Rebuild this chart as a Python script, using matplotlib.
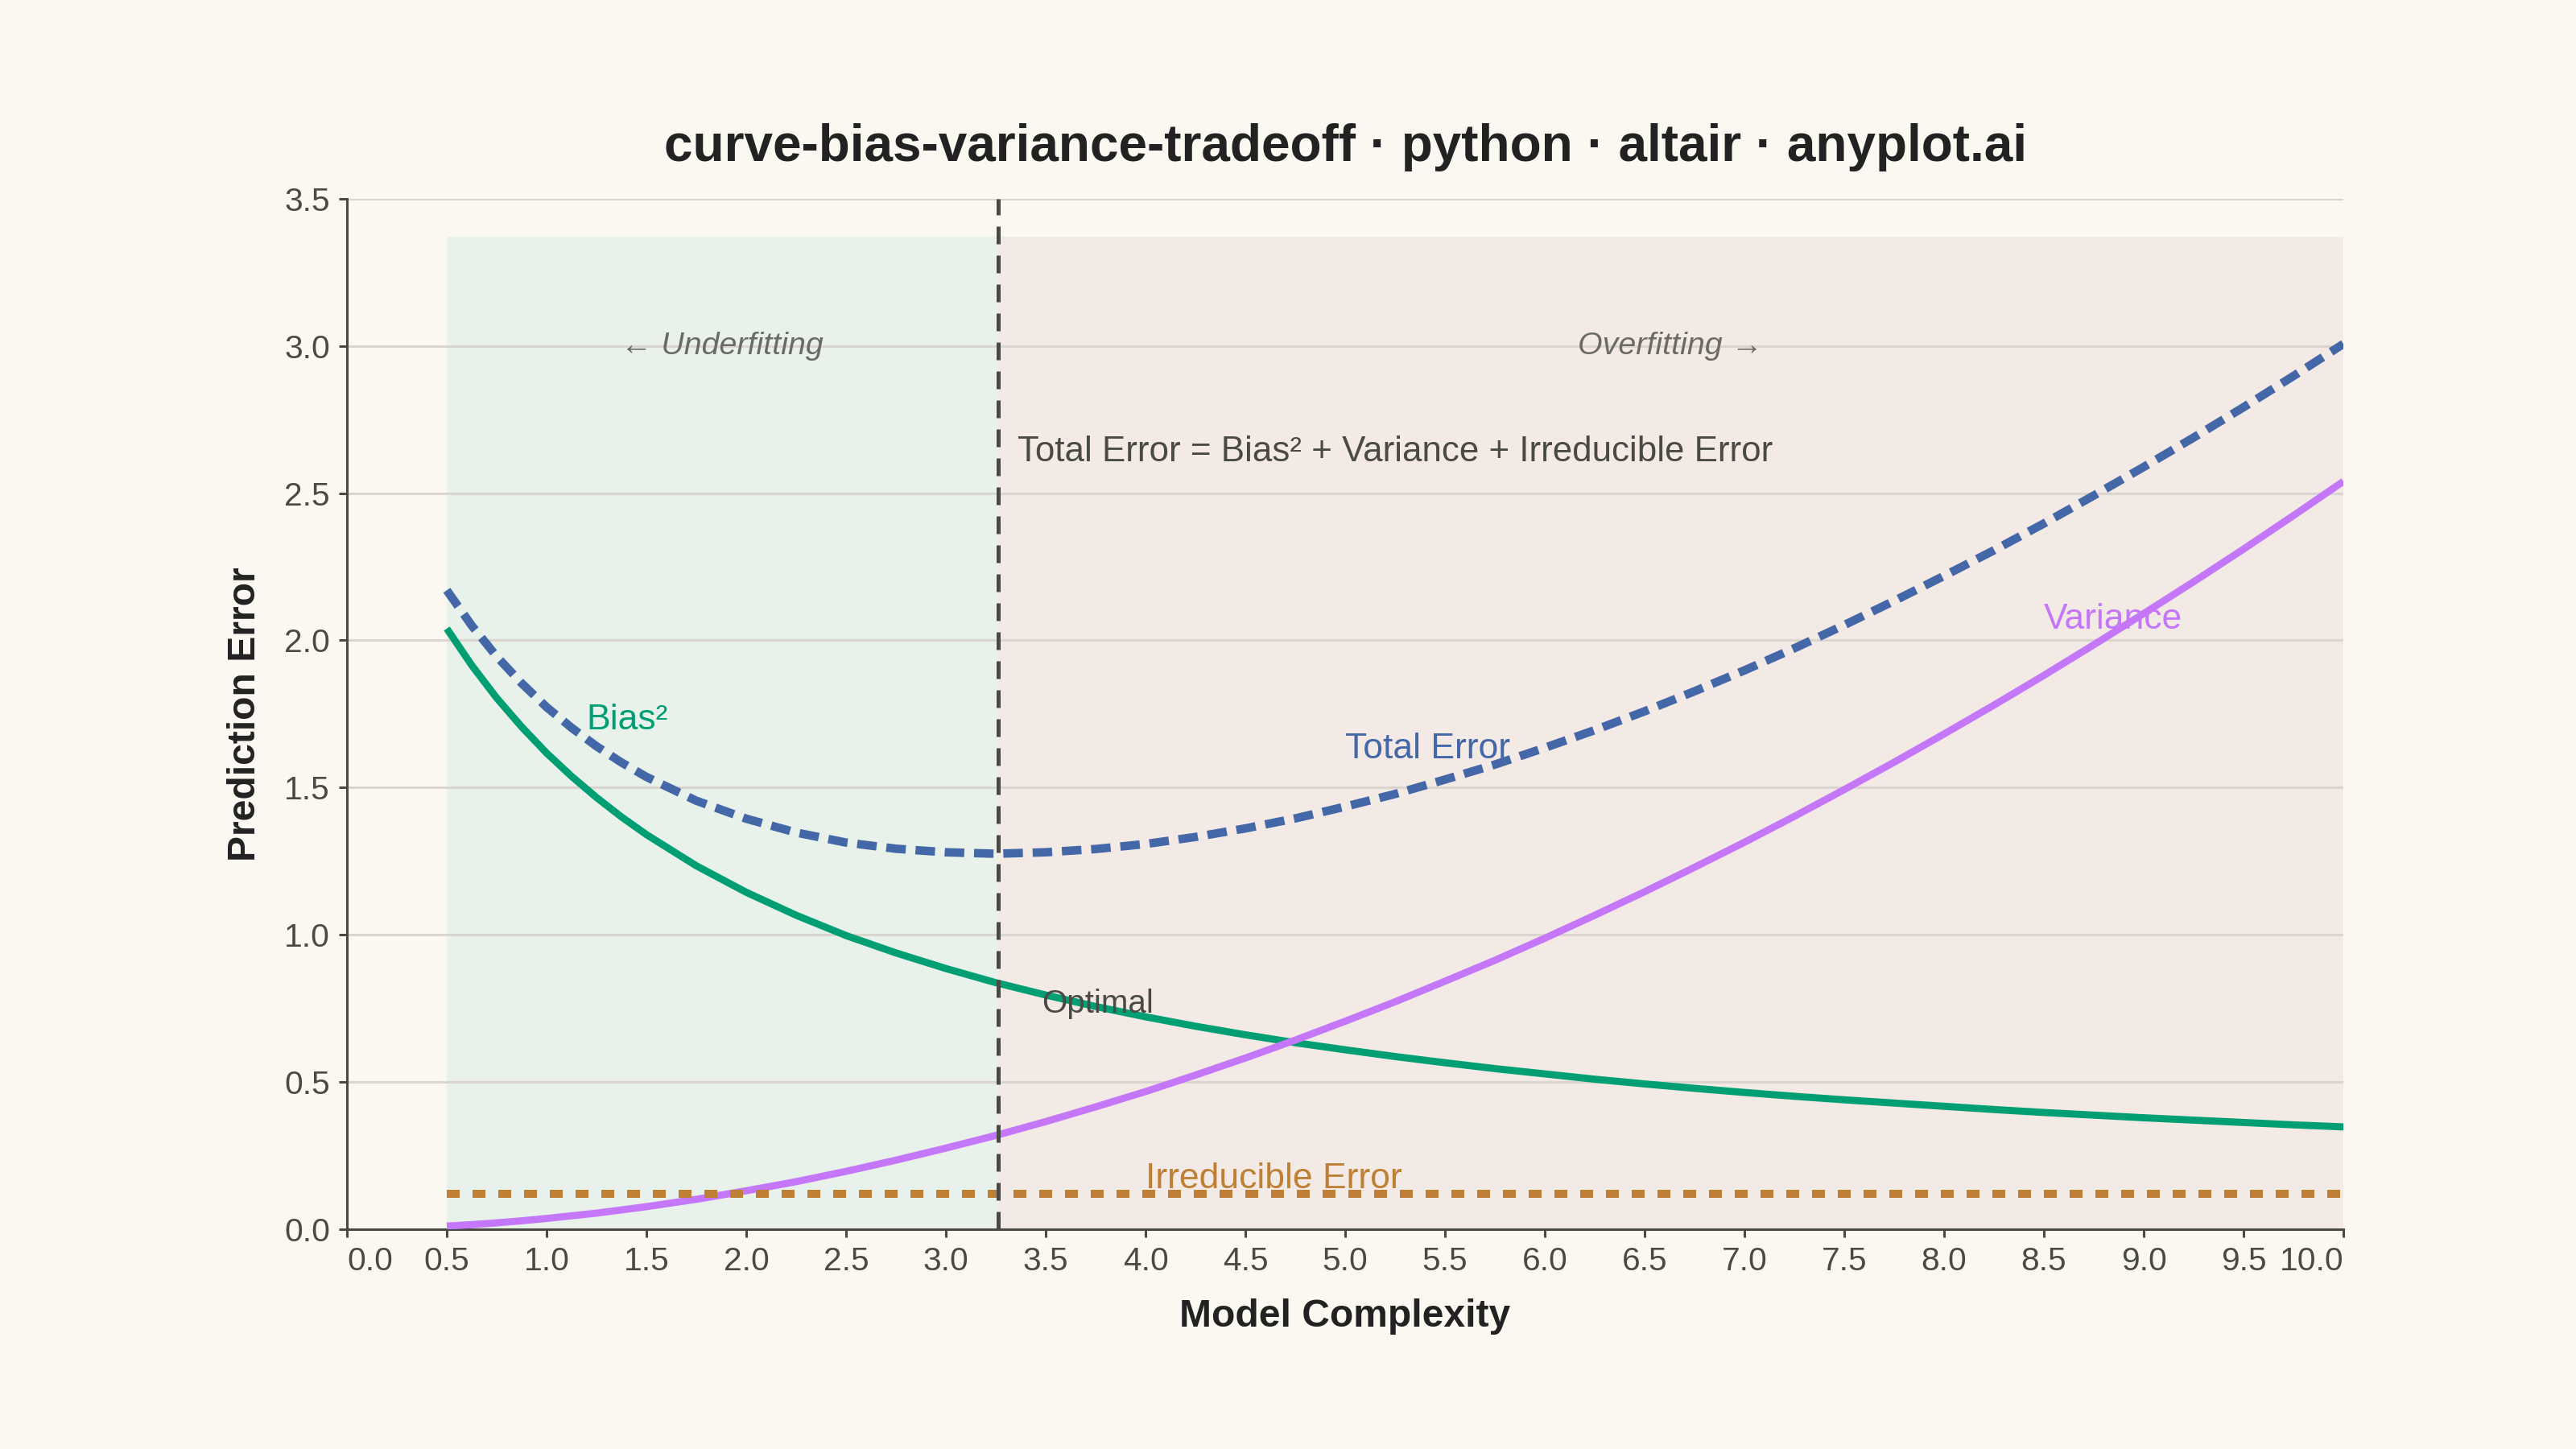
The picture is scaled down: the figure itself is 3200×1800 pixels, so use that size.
import matplotlib
matplotlib.use("Agg")
import matplotlib.pyplot as plt
import numpy as np

# model complexity sample points (finer where the curves bend most)
complexity = [0.5, 0.625, 0.75, 0.875, 1.0, 1.125, 1.25, 1.375, 1.5, 1.75, 2.0, 2.25,
              2.5, 2.75, 3.0, 3.25, 3.5, 3.75, 4.0, 4.25, 4.5, 4.75, 5.0, 5.25, 5.5,
              5.75, 6.0, 6.25, 6.5, 6.75, 7.0, 7.25, 7.5, 7.75, 8.0, 8.25, 8.5, 8.75,
              9.0, 9.25, 9.5, 9.75, 10.0]
bias_sq = [2.040, 1.915, 1.804, 1.706, 1.617, 1.538, 1.466, 1.400, 1.340, 1.234, 1.144, 1.066,
           0.997, 0.938, 0.885, 0.837, 0.795, 0.756, 0.721, 0.689, 0.660, 0.633, 0.609, 0.586,
           0.565, 0.545, 0.527, 0.509, 0.493, 0.478, 0.464, 0.451, 0.439, 0.428, 0.417, 0.406,
           0.396, 0.387, 0.378, 0.370, 0.362, 0.354, 0.347]
variance = [0.010, 0.015, 0.021, 0.028, 0.036, 0.045, 0.054, 0.065, 0.076, 0.101, 0.130, 0.161,
            0.196, 0.234, 0.275, 0.318, 0.365, 0.415, 0.467, 0.523, 0.581, 0.642, 0.706, 0.772,
            0.842, 0.913, 0.988, 1.066, 1.146, 1.229, 1.314, 1.402, 1.493, 1.586, 1.682, 1.780,
            1.881, 1.985, 2.091, 2.199, 2.310, 2.424, 2.540]
irreducible = 0.12
optimal_x = 3.26
region_top = 3.37

x_ticks = [0.0, 0.5, 1.0, 1.5, 2.0, 2.5, 3.0, 3.5, 4.0, 4.5, 5.0,
           5.5, 6.0, 6.5, 7.0, 7.5, 8.0, 8.5, 9.0, 9.5, 10.0]
y_ticks = [0.0, 0.5, 1.0, 1.5, 2.0, 2.5, 3.0, 3.5]

total_error = np.array(bias_sq) + np.array(variance) + irreducible

BG = "#FAF8F1"
INK = "#4A4A44"
GREEN = "#009E73"
BLUE = "#4467A8"
PURPLE = "#C477F9"
ORANGE = "#BD8035"

plt.rcParams['font.family'] = ['Liberation Sans', 'DejaVu Sans']

fig = plt.figure(figsize=(16, 9), dpi=200, facecolor=BG)
ax = fig.add_axes([0.1347, 0.1518, 0.775, 0.711])
ax.set_facecolor(BG)

# under/over fitting regions
ax.fill_between([complexity[0], optimal_x], 0, region_top, color="#E8F2EA", lw=0, zorder=0.1)
ax.fill_between([optimal_x, complexity[-1]], 0, region_top, color="#F4EAE5", lw=0, zorder=0.1)

ax.plot(complexity, bias_sq, color=GREEN, lw=3.2, solid_capstyle='butt', solid_joinstyle='round', zorder=3)
ax.plot(complexity, variance, color=PURPLE, lw=3.2, solid_capstyle='butt', solid_joinstyle='round', zorder=3)
ax.plot([complexity[0], complexity[-1]], [irreducible, irreducible], color=ORANGE, lw=3.6,
        dashes=(1.6, 1.6), dash_capstyle='butt', zorder=3)
ax.plot(complexity, total_error, color=BLUE, lw=3.8, dashes=(2.3, 1.15),
        dash_capstyle='butt', zorder=4)

ax.axvline(optimal_x, color=INK, lw=1.8, dashes=(4.4, 2.8), zorder=5)

# annotations
ax.text(1.88, 3.0, "← Underfitting", ha='center', va='center', fontsize=14.2,
        style='italic', color="#6B6B66", zorder=6)
ax.text(6.63, 3.0, "Overfitting →", ha='center', va='center', fontsize=14.2,
        style='italic', color="#6B6B66", zorder=6)
ax.text(optimal_x + 0.1, 2.64, "Total Error = Bias² + Variance + Irreducible Error",
        ha='left', va='center', fontsize=15.8, color=INK, zorder=6)
ax.text(optimal_x + 0.22, 0.765, "Optimal", ha='left', va='center', fontsize=14.5, color=INK, zorder=6)
ax.text(1.2, 1.73, "Bias²", ha='left', va='center', fontsize=16, color=GREEN, zorder=6)
ax.text(5.0, 1.63, "Total Error", ha='left', va='center', fontsize=16, color=BLUE, zorder=6)
ax.text(8.5, 2.07, "Variance", ha='left', va='center', fontsize=16, color=PURPLE, zorder=6)
ax.text(4.0, 0.17, "Irreducible Error", ha='left', va='center', fontsize=16, color=ORANGE, zorder=6)

ax.set_xlim(0, 10)
ax.set_ylim(0, 3.5)
ax.set_xticks(x_ticks)
ax.set_xticklabels([f"{t:.1f}" for t in x_ticks])
ax.set_yticks(y_ticks)
ax.set_yticklabels([f"{t:.1f}" for t in y_ticks])
ticklabels = ax.get_xticklabels()
ticklabels[0].set_ha('left')
ticklabels[-1].set_ha('right')

ax.tick_params(axis='both', colors=INK, labelcolor=INK, labelsize=14.7, length=3.6, width=1.1, pad=4)
ax.grid(axis='y', color="#DAD6CF", lw=1.1)
ax.set_axisbelow(True)
for side in ['top', 'right']:
    ax.spines[side].set_visible(False)
for side in ['left', 'bottom']:
    ax.spines[side].set_color(INK)
    ax.spines[side].set_linewidth(1.1)

ax.set_xlabel("Model Complexity", fontsize=17.3, fontweight='bold', color="#222222")
ax.xaxis.set_label_coords(0.5, -0.085)
ax.xaxis.label.set_va('center')
ax.set_ylabel("Prediction Error", fontsize=17.3, fontweight='bold', color="#222222")
ax.yaxis.set_label_coords(-0.051, 0.5)
ax.yaxis.label.set_va('center')

ax.text(0.5, 1.050, "curve-bias-variance-tradeoff · python · altair · anyplot.ai",
        transform=ax.transAxes, ha='center', va='center', fontsize=23,
        fontweight='bold', color="#222222")

fig.savefig("out.png", dpi=200, facecolor=BG)
